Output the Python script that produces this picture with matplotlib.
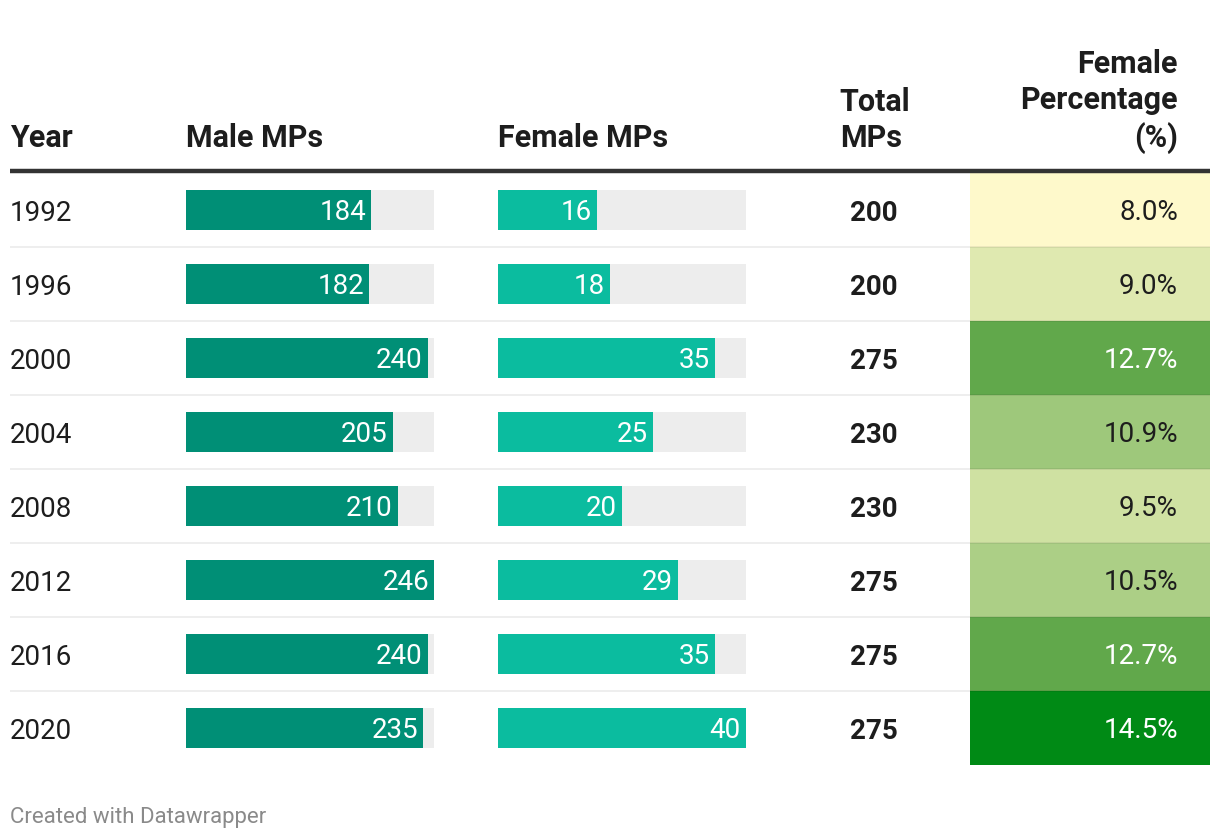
import matplotlib
matplotlib.use("Agg")
import matplotlib.pyplot as plt
from matplotlib.colors import LinearSegmentedColormap, Normalize

plt.rcParams['font.family'] = ['Roboto', 'DejaVu Sans']

years = ["1992", "1996", "2000", "2004", "2008", "2012", "2016", "2020"]
male_mps = [184, 182, 240, 205, 210, 246, 240, 235]
female_mps = [16, 18, 35, 25, 20, 29, 35, 40]
total_mps = [200, 200, 275, 230, 230, 275, 275, 275]
female_pct = [8.0, 9.0, 12.7, 10.9, 9.5, 10.5, 12.7, 14.5]

W, H = 1220, 840
fig = plt.figure(figsize=(W / 100, H / 100), dpi=100)
main = fig.add_axes([0, 0, 1, 1])
main.set_xlim(0, W)
main.set_ylim(H, 0)
main.axis('off')

n = len(years)
top, row_h = 173, 74
body_bottom = top + n * row_h


def col_axes(x0, x1):
    ax = fig.add_axes([x0 / W, 1 - body_bottom / H, (x1 - x0) / W, (body_bottom - top) / H])
    ax.set_ylim(n - 0.5, -0.5)
    ax.axis('off')
    return ax


dark = "#1d1d1d"
male_c = "#008f76"
female_c = "#0bbc9f"
bg_c = "#ededed"
fs = 20
base_off = 10  # px from row centre to text baseline


def label(ax, x, i, txt, dx, color, ha='right'):
    ax.annotate(txt, (x, i), xytext=(dx, -base_off), textcoords='offset pixels',
                ha=ha, va='baseline', color=color, fontsize=fs, zorder=3)


# Male bars
ax_m = col_axes(186, 434)
mmax = max(male_mps)
ax_m.set_xlim(0, mmax)
ax_m.barh(range(n), [mmax] * n, height=0.54, color=bg_c, zorder=1)
ax_m.barh(range(n), male_mps, height=0.54, color=male_c, zorder=2)
for i, v in enumerate(male_mps):
    label(ax_m, v, i, str(v), -5, 'white')

# Female bars
ax_f = col_axes(498, 746)
fmax = max(female_mps)
ax_f.set_xlim(0, fmax)
ax_f.barh(range(n), [fmax] * n, height=0.54, color=bg_c, zorder=1)
ax_f.barh(range(n), female_mps, height=0.54, color=female_c, zorder=2)
for i, v in enumerate(female_mps):
    label(ax_f, v, i, str(v), -5, 'white')

# Heatmap column
cmap = LinearSegmentedColormap.from_list(
    "dw", [(0.0, "#fef9cb"), (0.23, "#cfe1a2"), (0.446, "#9ec87b"), (0.723, "#62a84b"), (1.0, "#008a15")])
norm = Normalize(min(female_pct), max(female_pct))
ax_h = col_axes(970, 1210)
ax_h.set_xlim(0, 1)
ax_h.barh(range(n), [1] * n, height=1.0, color=[cmap(norm(v)) for v in female_pct], zorder=1)
for i, v in enumerate(female_pct):
    tc = 'white' if norm(v) > 0.6 else dark
    label(ax_h, 1, i, f"{v:.1f}%", -32, tc)

# Years and totals
for i, (y, t) in enumerate(zip(years, total_mps)):
    cy = top + row_h * i + row_h / 2 + 1
    main.text(10, cy + base_off, y, ha='left', va='baseline', color=dark, fontsize=fs)
    main.text(874, cy + base_off, str(t), ha='center', va='baseline', color=dark, fontsize=fs,
              fontweight='bold')

# Row separators (overlay)
sep = fig.add_axes([0, 0, 1, 1], facecolor='none')
sep.set_xlim(0, W)
sep.set_ylim(H, 0)
sep.axis('off')
for i in range(1, n):
    yy = top + row_h * i
    sep.plot([10, 1210], [yy, yy], color='black', alpha=0.08, lw=1.2, solid_capstyle='butt')
sep.plot([10, 1210], [171, 171], color='#333333', lw=3.2, solid_capstyle='butt')

# Header
hb = 147
hfs = 22
main.text(10, hb, "Year", ha='left', va='baseline', color=dark, fontsize=hfs, fontweight='bold')
main.text(186, hb, "Male MPs", ha='left', va='baseline', color=dark, fontsize=hfs, fontweight='bold')
main.text(498, hb, "Female MPs", ha='left', va='baseline', color=dark, fontsize=hfs, fontweight='bold')
main.text(875, hb, "Total\nMPs", ha='center', va='baseline', color=dark, fontsize=hfs,
          fontweight='bold', multialignment='left', linespacing=1.27)
main.text(1178, hb, "Female\nPercentage\n(%)", ha='right', va='baseline', color=dark, fontsize=hfs,
          fontweight='bold', multialignment='right', linespacing=1.27)

# Footer
main.text(10, 817, "Created with Datawrapper", ha='left', va='center', color='#8a8a8a', fontsize=16)

fig.savefig("out.png", dpi=100, facecolor='white')
